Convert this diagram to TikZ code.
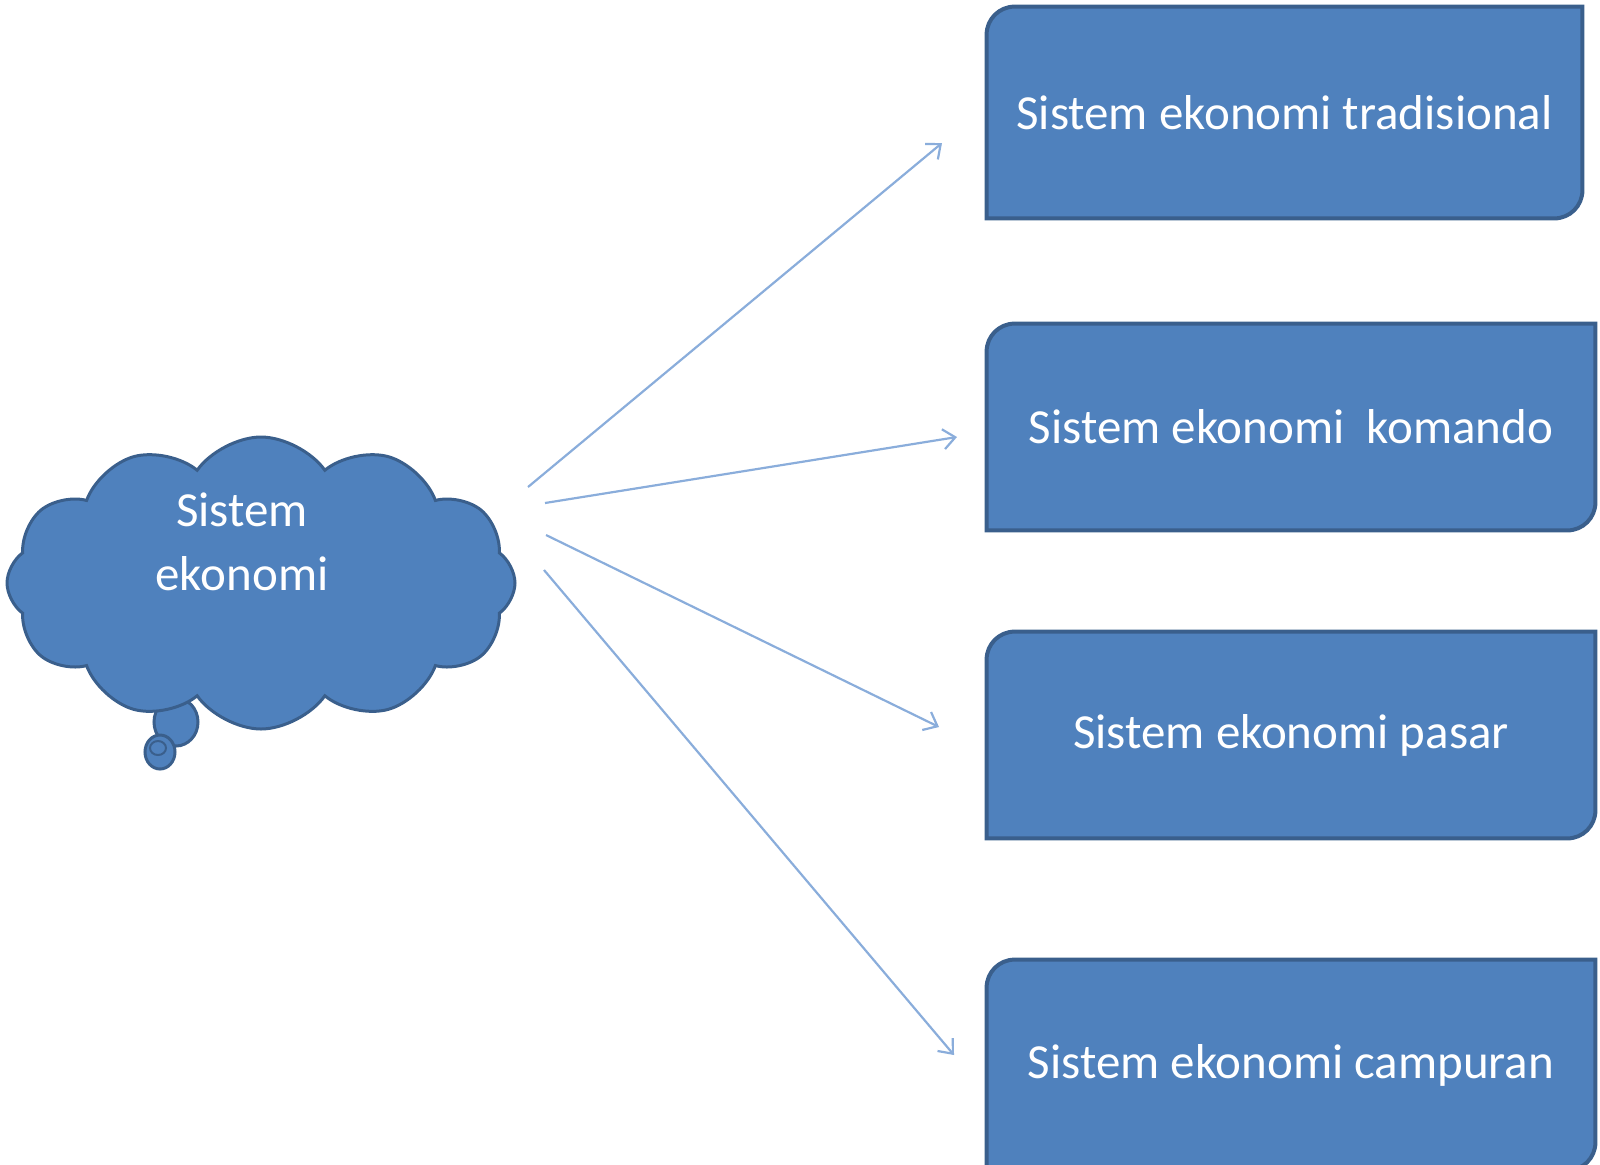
\documentclass[tikz,border=0pt]{standalone}
\usepackage{fontspec}
\setmainfont{Carlito}
\usetikzlibrary{shapes.symbols,arrows.meta,backgrounds}
\definecolor{boxfill}{HTML}{4F81BD}
\definecolor{boxline}{HTML}{3A5F8C}
\definecolor{arrowcol}{HTML}{8AADDB}
\tikzset{
  boxtxt/.style={rectangle, inner sep=0pt, text=white, font=\fontsize{24.5pt}{32pt}\selectfont},
  boxshape/.style={fill=boxfill, draw=boxline, line width=2pt},
  link/.style={draw=arrowcol, line width=1.1pt, -{Straight Barb[length=6pt,width=10pt]}},
  thought/.style={cloud, cloud puffs=12, cloud puff arc=110, aspect=1.74,
    fill=boxfill, draw=boxline, line width=1.5pt},
  bubble/.style={fill=boxfill, draw=boxline, line width=1.5pt},
}
\newcommand{\diagshape}[1]{%
  \path[boxshape] (#1.south west) -- ([yshift=-14pt]#1.north west)
    arc[start angle=180,end angle=90,radius=14pt] -- (#1.north east)
    -- ([yshift=14pt]#1.south east) arc[start angle=0,end angle=-90,radius=14pt] -- cycle;}
\begin{document}
\begin{tikzpicture}[x=0.5pt,y=-0.5pt]
\useasboundingbox (0,0) rectangle (1600,1164);
% thought bubble tail
\path[bubble] (176,722) ellipse [x radius=22, y radius=24];
\path[bubble] (160,752) ellipse [x radius=15, y radius=17];
\draw[boxline, line width=1pt] (158,748) ellipse [x radius=8, y radius=7];
% cloud
\node[thought, minimum width=254pt, minimum height=146pt] (cloud) at (261,583) {};
\node[boxtxt, align=center] (ctext) at (242,542) {Sistem\\ekonomi};
% boxes
\node[boxtxt, minimum width=297.5pt, minimum height=105.5pt] (b1) at (1284.5,112.5) {Sistem ekonomi tradisional};
\node[boxtxt, minimum width=304pt, minimum height=103pt] (b2) at (1291,427) {Sistem ekonomi~ komando};
\node[boxtxt, minimum width=304pt, minimum height=103pt] (b3) at (1291,735) {Sistem ekonomi pasar};
\node[boxtxt, minimum width=304pt, minimum height=105pt] (b4) at (1291,1065) {Sistem ekonomi campuran};
\begin{scope}[on background layer]
\diagshape{b1}
\diagshape{b2}
\diagshape{b3}
\diagshape{b4}
\end{scope}
% connectors
\coordinate (s1) at (528,487); \coordinate (e1) at (942,143);
\coordinate (s2) at (545,503); \coordinate (e2) at (957,437);
\coordinate (s3) at (546,535); \coordinate (e3) at (939,727);
\coordinate (s4) at (544,570); \coordinate (e4) at (954,1055);
\draw[link] (s1) -- (e1);
\draw[link] (s2) -- (e2);
\draw[link] (s3) -- (e3);
\draw[link] (s4) -- (e4);
\end{tikzpicture}
\end{document}
